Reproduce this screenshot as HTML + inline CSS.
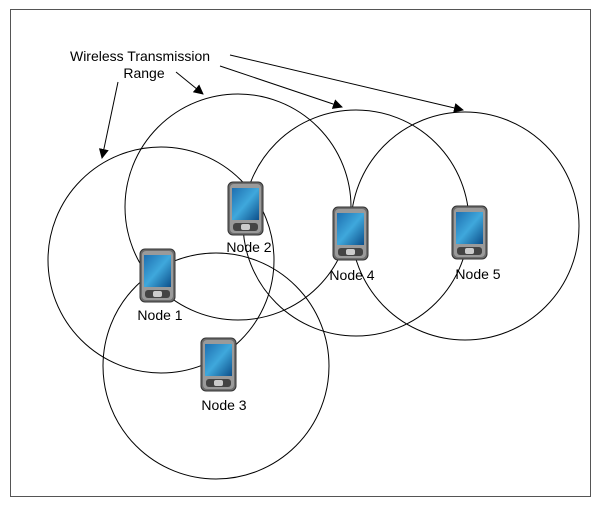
<!DOCTYPE html>
<html><head><style>html,body{margin:0;padding:0;background:#fff}svg{display:block}</style></head>
<body>
<svg width="600" height="507" viewBox="0 0 600 507" xmlns="http://www.w3.org/2000/svg">
<defs>
<marker id="ah" markerWidth="10" markerHeight="10" refX="9" refY="5" orient="auto" markerUnits="userSpaceOnUse">
<path d="M0,0 L10,5 L0,10 z" fill="#000"/></marker>
<linearGradient id="scr" x1="0" y1="0" x2="1" y2="1"><stop offset="0" stop-color="#1e6fb0"/><stop offset="0.5" stop-color="#3fa8dc"/><stop offset="1" stop-color="#0d4f8a"/></linearGradient>
<g id="pda">
<rect x="0" y="0" width="35" height="53" rx="5" fill="#6c6c6c" stroke="#333" stroke-width="1"/>
<rect x="2" y="2" width="31" height="49" rx="4" fill="#9a9a9a"/>
<rect x="4" y="6" width="27" height="32" fill="url(#scr)"/>
<rect x="5" y="41" width="25" height="8" rx="3" fill="#444"/>
<rect x="13" y="42" width="9" height="6" rx="2" fill="#ccc"/>
</g>
</defs>
<rect x="10.5" y="9.5" width="580" height="487" fill="none" stroke="#555" stroke-width="1"/>
<g fill="none" stroke="#000" stroke-width="1">
<circle cx="161" cy="260" r="113"/>
<circle cx="238" cy="207" r="113"/>
<circle cx="216" cy="366" r="113"/>
<circle cx="356" cy="223" r="113"/>
<circle cx="465" cy="226" r="114"/>
</g>
<use href="#pda" x="140" y="249"/>
<use href="#pda" x="228" y="182"/>
<use href="#pda" x="333" y="207"/>
<use href="#pda" x="452" y="206"/>
<use href="#pda" x="201" y="338"/>
<g stroke="#000" stroke-width="1" marker-end="url(#ah)">
<line x1="118" y1="82" x2="102" y2="158"/>
<line x1="176" y1="72" x2="203" y2="94"/>
<line x1="220" y1="66" x2="342" y2="107"/>
<line x1="230" y1="55" x2="463" y2="110"/>
</g>
<g font-family="Liberation Sans, sans-serif" font-size="14" fill="#000" text-anchor="middle">
<text x="140" y="61">Wireless  Transmission</text>
<text x="144" y="78">Range</text>
<text x="160" y="320">Node 1</text>
<text x="249" y="252">Node 2</text>
<text x="224" y="410">Node 3</text>
<text x="352" y="280">Node 4</text>
<text x="478" y="279">Node 5</text>
</g>
</svg>
</body></html>
